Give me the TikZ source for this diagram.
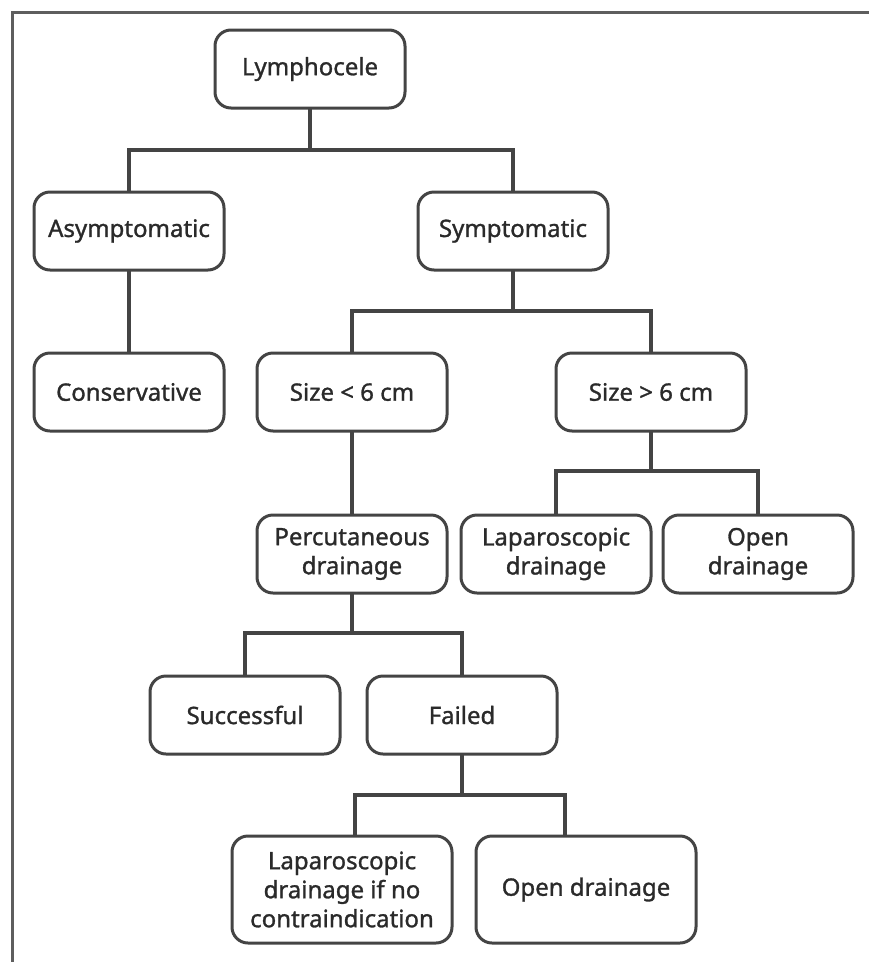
\documentclass[tikz,border=0pt]{standalone}
\usepackage{fontspec}
\setmainfont{Noto Sans}
\newfontfamily\boxfont{Noto Sans}[FakeBold=1.2]
\usetikzlibrary{positioning}
\definecolor{boxline}{HTML}{444444}
\definecolor{boxtext}{HTML}{2A2A2A}
\definecolor{frameline}{HTML}{5E5E5E}
\tikzstyle{stepbox}=[
	rectangle,
	rounded corners=16pt,
	draw=boxline,
	line width=3pt,
	outer sep=0pt,
	text=boxtext,
	align=center,
	minimum width=190pt,
	minimum height=78pt,
	font=\boxfont\fontsize{24}{29}\selectfont
]
\tikzstyle{widebox}=[
	stepbox,
	minimum width=220pt,
	minimum height=107pt
]
\tikzstyle{link}=[
	draw=boxline,
	line width=3.2pt
]

\begin{document}
\begin{tikzpicture}
\useasboundingbox (0,0) rectangle (869pt,-962pt);
\draw [frameline, line width=3pt] (12pt,-962pt) -- (12pt,-12pt) -- (869pt,-12pt);

\node [stepbox] (Lymphocele) at (310pt,-69pt) {Lymphocele};
\node [stepbox] (Asymptomatic)[below=84pt of Lymphocele, xshift=-181pt] {Asymptomatic};
\node [stepbox] (Symptomatic)[below=84pt of Lymphocele, xshift=203pt] {Symptomatic};
\node [stepbox] (Conservative)[below=83pt of Asymptomatic] {Conservative};
\node [stepbox] (SizeSmall)[below=83pt of Symptomatic, xshift=-161pt] {Size < 6 cm};
\node [stepbox] (SizeLarge)[below=83pt of Symptomatic, xshift=138pt] {Size > 6 cm};
\node [stepbox] (Percutaneous)[below=84pt of SizeSmall] {Percutaneous\\drainage};
\node [stepbox] (LapDrainage)[below=84pt of SizeLarge, xshift=-95pt] {Laparoscopic\\drainage};
\node [stepbox] (OpenDrainage)[below=84pt of SizeLarge, xshift=107pt] {Open\\drainage};
\node [stepbox] (Successful)[below=83pt of Percutaneous, xshift=-107pt] {Successful};
\node [stepbox] (Failed)[below=83pt of Percutaneous, xshift=110pt] {Failed};
\node [widebox] (LapIfNo)[below=82pt of Failed, xshift=-120pt] {Laparoscopic\\drainage if no\\contraindication};
\node [widebox] (OpenLast)[below=82pt of Failed, xshift=124pt] {Open drainage};

\draw [link] (Lymphocele.south) -- ++(0,-42pt) -| (Asymptomatic.north);
\draw [link] (Lymphocele.south) -- ++(0,-42pt) -| (Symptomatic.north);
\draw [link] (Asymptomatic) -- (Conservative);
\draw [link] (Symptomatic.south) -- ++(0,-41pt) -| (SizeSmall.north);
\draw [link] (Symptomatic.south) -- ++(0,-41pt) -| (SizeLarge.north);
\draw [link] (SizeSmall) -- (Percutaneous);
\draw [link] (SizeLarge.south) -- ++(0,-40pt) -| (LapDrainage.north);
\draw [link] (SizeLarge.south) -- ++(0,-40pt) -| (OpenDrainage.north);
\draw [link] (Percutaneous.south) -- ++(0,-40pt) -| (Successful.north);
\draw [link] (Percutaneous.south) -- ++(0,-40pt) -| (Failed.north);
\draw [link] (Failed.south) -- ++(0,-41pt) -| ([xshift=13pt]LapIfNo.north);
\draw [link] (Failed.south) -- ++(0,-41pt) -| ([xshift=-21pt]OpenLast.north);
\end{tikzpicture}
\end{document}
